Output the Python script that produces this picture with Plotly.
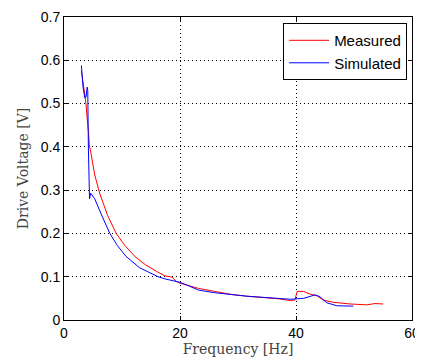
import plotly.graph_objects as go

# Measured (red)
meas_f = [3.0, 3.3, 3.6, 3.8, 4.0, 4.1, 4.25, 4.36, 4.65, 5.3, 6.15, 7.5, 9.0, 10.5, 12.2, 14.0,
          16.0, 17.4, 18.6, 19.4, 20.0, 21.5, 23.2, 26.0, 28.9, 31.5, 34.7, 37.0, 39.0, 39.8,
          40.2, 41.3, 42.4, 43.6, 44.7, 46.4, 49.3, 52.2, 53.6, 55.0]
meas_v = [0.575, 0.55, 0.52, 0.497, 0.475, 0.45, 0.43, 0.405, 0.385, 0.335, 0.293, 0.242, 0.20,
          0.172, 0.147, 0.128, 0.112, 0.102, 0.099, 0.089, 0.085, 0.079, 0.073, 0.066, 0.059,
          0.055, 0.052, 0.049, 0.045, 0.046, 0.066, 0.066, 0.060, 0.056, 0.046, 0.041, 0.037,
          0.035, 0.038, 0.037]

# Simulated (blue)
sim_f = [3.0, 3.1, 3.3, 3.6, 3.8, 4.0, 4.1, 4.2, 4.3, 4.4, 4.6, 5.3, 6.4, 7.9, 9.2, 10.7, 13.0,
         16.2, 17.4, 20.0, 21.5, 23.2, 26.0, 28.9, 31.5, 34.7, 37.0, 39.0, 41.3, 43.3, 44.1,
         45.3, 47.0, 49.9]
sim_v = [0.588, 0.57, 0.536, 0.513, 0.515, 0.538, 0.53, 0.40, 0.30, 0.28, 0.293, 0.280, 0.245,
         0.20, 0.172, 0.147, 0.121, 0.100, 0.095, 0.087, 0.079, 0.069, 0.063, 0.058, 0.055,
         0.052, 0.050, 0.048, 0.050, 0.058, 0.054, 0.040, 0.033, 0.032]

x_ticks = [0, 20, 40, 60]
y_ticks = [0, 0.1, 0.2, 0.3, 0.4, 0.5, 0.6, 0.7]
y_tick_labels = ["0", "0.1", "0.2", "0.3", "0.4", "0.5", "0.6", "0.7"]

fig = go.Figure()
fig.add_trace(go.Scatter(x=meas_f, y=meas_v, mode="lines", name="Measured",
                         line=dict(color="#ff0000", width=1)))
fig.add_trace(go.Scatter(x=sim_f, y=sim_v, mode="lines", name="Simulated",
                         line=dict(color="#0000ff", width=1)))

axis_common = dict(showline=True, linecolor="black", linewidth=1, mirror="ticks",
                   ticks="inside", ticklen=4, tickcolor="black",
                   showgrid=True, gridcolor="black", griddash="1px,3px", gridwidth=1,
                   zeroline=False, automargin=False,
                   tickfont=dict(family="Liberation Sans, Arial", size=14, color="black"))

title_font = dict(family="DejaVu Serif, Liberation Serif", size=14, color="#444")

fig.update_xaxes(range=[0, 60], tickvals=x_ticks,
                 title=dict(text="Frequency [Hz]", standoff=2, font=title_font),
                 **axis_common)
fig.update_yaxes(range=[0, 0.7], tickvals=y_ticks, ticktext=y_tick_labels,
                 title=dict(text="Drive Voltage [V]", standoff=8, font=title_font),
                 **axis_common)

# the page body has an 8px default margin, so the figure is 8px smaller and offset
fig.update_layout(
    width=415, height=356,
    margin=dict(l=56, r=11, t=9, b=44),
    paper_bgcolor="white", plot_bgcolor="white",
    showlegend=True,
    legend=dict(x=0.986, y=0.98, xanchor="right", yanchor="top",
                bgcolor="white", bordercolor="black", borderwidth=1,
                font=dict(family="Liberation Sans, Arial", size=15, color="black"),
                tracegroupgap=0, itemwidth=40),
)

fig.write_html("out.html")
